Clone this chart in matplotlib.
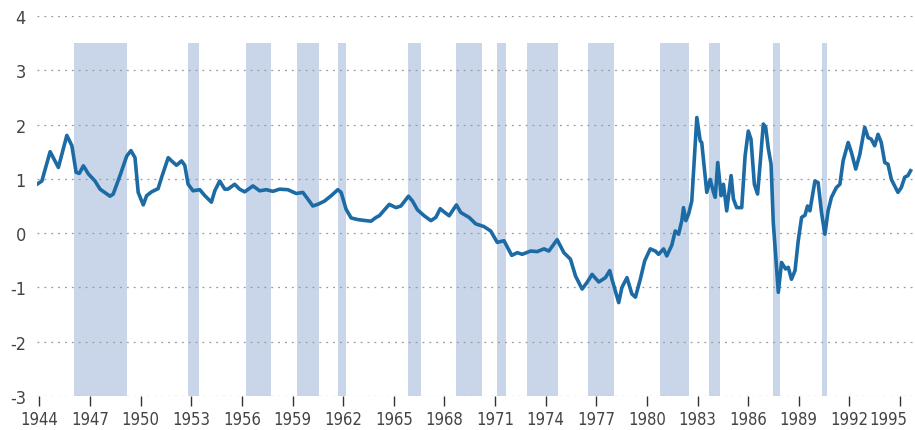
import matplotlib
matplotlib.use("Agg")
import matplotlib.pyplot as plt
import matplotlib.transforms as mtransforms

# shaded periods (start, end) in decimal years
band_start = [1946.05, 1952.79, 1956.22, 1959.25, 1961.72, 1965.87, 1968.71, 1971.12,
              1972.89, 1976.51, 1980.75, 1983.71, 1987.49, 1990.37]
band_end = [1949.17, 1953.44, 1957.71, 1960.55, 1962.19, 1966.62, 1970.23, 1971.67,
            1974.74, 1978.05, 1982.47, 1984.36, 1987.86, 1990.67]
band_top = 3.5

years = [1943.85, 1944.14, 1944.63, 1945.12, 1945.62, 1945.92, 1946.17, 1946.36, 1946.60, 1946.90,
         1947.29, 1947.59, 1948.18, 1948.37, 1948.77, 1949.17, 1949.42, 1949.66, 1949.85, 1950.15,
         1950.35, 1950.64, 1951.03, 1951.24, 1951.63, 1951.83, 1952.12, 1952.42, 1952.61, 1952.81,
         1953.10, 1953.50, 1953.80, 1954.19, 1954.39, 1954.68, 1954.98, 1955.17, 1955.57, 1955.86,
         1956.16, 1956.65, 1957.05, 1957.44, 1957.83, 1958.23, 1958.72, 1959.22, 1959.61, 1959.90,
         1960.20, 1960.49, 1960.89, 1961.29, 1961.68, 1961.88, 1962.17, 1962.47, 1962.86, 1963.35,
         1963.65, 1963.95, 1964.14, 1964.73, 1965.13, 1965.42, 1965.87, 1966.11, 1966.40, 1966.80,
         1967.20, 1967.49, 1967.75, 1967.98, 1968.28, 1968.71, 1968.97, 1969.46, 1969.86, 1970.35,
         1970.74, 1971.13, 1971.53, 1971.99, 1972.32, 1972.61, 1973.11, 1973.50, 1973.90, 1974.19,
         1974.68, 1975.08, 1975.47, 1975.77, 1976.16, 1976.45, 1976.75, 1977.15, 1977.54, 1977.80,
         1977.93, 1978.33, 1978.52, 1978.82, 1979.11, 1979.32, 1979.61, 1979.87, 1980.20, 1980.50,
         1980.69, 1980.99, 1981.18, 1981.48, 1981.68, 1981.88, 1982.07, 1982.17, 1982.31, 1982.47,
         1982.66, 1982.96, 1983.16, 1983.25, 1983.41, 1983.55, 1983.75, 1983.95, 1984.05, 1984.20,
         1984.40, 1984.54, 1984.73, 1984.99, 1985.13, 1985.32, 1985.62, 1985.82, 1986.01, 1986.17,
         1986.37, 1986.56, 1986.71, 1986.90, 1987.04, 1987.20, 1987.36, 1987.49, 1987.79, 1987.98,
         1988.22, 1988.38, 1988.57, 1988.78, 1988.97, 1989.17, 1989.37, 1989.52, 1989.66, 1989.96,
         1990.15, 1990.35, 1990.55, 1990.74, 1990.94, 1991.23, 1991.44, 1991.63, 1991.93, 1992.12,
         1992.38, 1992.62, 1992.91, 1993.11, 1993.30, 1993.50, 1993.70, 1993.89, 1994.10, 1994.29,
         1994.49, 1994.88, 1995.08, 1995.28, 1995.47, 1995.63]
values = [0.90, 0.96, 1.50, 1.21, 1.80, 1.61, 1.12, 1.10, 1.24, 1.09,
          0.96, 0.81, 0.68, 0.72, 1.06, 1.42, 1.52, 1.39, 0.75, 0.52,
          0.69, 0.76, 0.82, 1.03, 1.39, 1.33, 1.25, 1.33, 1.25, 0.90,
          0.78, 0.80, 0.69, 0.57, 0.78, 0.96, 0.81, 0.81, 0.90, 0.81,
          0.76, 0.87, 0.78, 0.80, 0.77, 0.81, 0.80, 0.73, 0.75, 0.63,
          0.50, 0.53, 0.59, 0.69, 0.80, 0.75, 0.44, 0.28, 0.25, 0.23,
          0.22, 0.29, 0.32, 0.53, 0.47, 0.50, 0.68, 0.59, 0.43, 0.32,
          0.23, 0.29, 0.45, 0.39, 0.32, 0.52, 0.38, 0.29, 0.17, 0.12,
          0.04, -0.17, -0.14, -0.41, -0.36, -0.39, -0.33, -0.34, -0.29, -0.33,
          -0.12, -0.36, -0.48, -0.79, -1.03, -0.91, -0.76, -0.90, -0.82, -0.69,
          -0.85, -1.28, -1.00, -0.82, -1.12, -1.18, -0.85, -0.51, -0.29, -0.33,
          -0.39, -0.29, -0.42, -0.22, 0.04, -0.02, 0.23, 0.47, 0.23, 0.35,
          0.59, 2.13, 1.70, 1.67, 1.18, 0.75, 0.99, 0.75, 0.66, 1.30,
          0.69, 0.90, 0.41, 1.06, 0.63, 0.47, 0.47, 1.42, 1.88, 1.73,
          0.90, 0.72, 1.27, 2.01, 1.95, 1.55, 1.27, 0.20, -1.09, -0.54,
          -0.66, -0.63, -0.85, -0.69, -0.14, 0.29, 0.33, 0.50, 0.41, 0.96,
          0.93, 0.38, -0.02, 0.41, 0.66, 0.84, 0.90, 1.33, 1.67, 1.49,
          1.18, 1.45, 1.95, 1.76, 1.73, 1.61, 1.82, 1.67, 1.30, 1.27,
          0.99, 0.75, 0.84, 1.03, 1.06, 1.15]

x_ticks = list(range(1944, 1996, 3))
y_ticks = [-3, -2, -1, 0, 1, 2, 3, 4]

plt.rcParams['font.family'] = ['DejaVu Sans']
plt.rcParams['font.stretch'] = 'condensed'
plt.rcParams['axes.unicode_minus'] = False

fig = plt.figure(figsize=(9.15, 4.31), dpi=100)
ax = fig.add_axes([0.0404, 0.0789, 0.957, 0.8817])

for a, b in zip(band_start, band_end):
    ax.axvspan(a, b, ymin=0, ymax=(band_top + 3) / 7, color='#c9d6ea', lw=0, zorder=1)

ax.plot(years, values, color='#1c6ba5', lw=2.6, solid_joinstyle='round', zorder=3)

ax.set_xlim(1943.85, 1995.75)
ax.set_ylim(-3, 4)
ax.set_xticks(x_ticks)
ax.set_yticks(y_ticks)
ax.grid(axis='y', color='#9a9a9a', linestyle=(0, (1.5, 4)), lw=0.9, zorder=2)
ax.set_axisbelow(False)
for s in ax.spines.values():
    s.set_visible(False)
ax.tick_params(axis='y', length=0, pad=8, labelsize=13, labelcolor='#444444')
ax.tick_params(axis='x', length=7, width=1, color='#333333', pad=3, labelsize=12,
               labelcolor='#444444')

# keep the last year label inside the figure
last = ax.get_xticklabels()[-1]
last.set_horizontalalignment('right')
last.set_transform(last.get_transform() + mtransforms.ScaledTranslation(7 / 100, 0, fig.dpi_scale_trans))

fig.savefig('out.png', dpi=100)
